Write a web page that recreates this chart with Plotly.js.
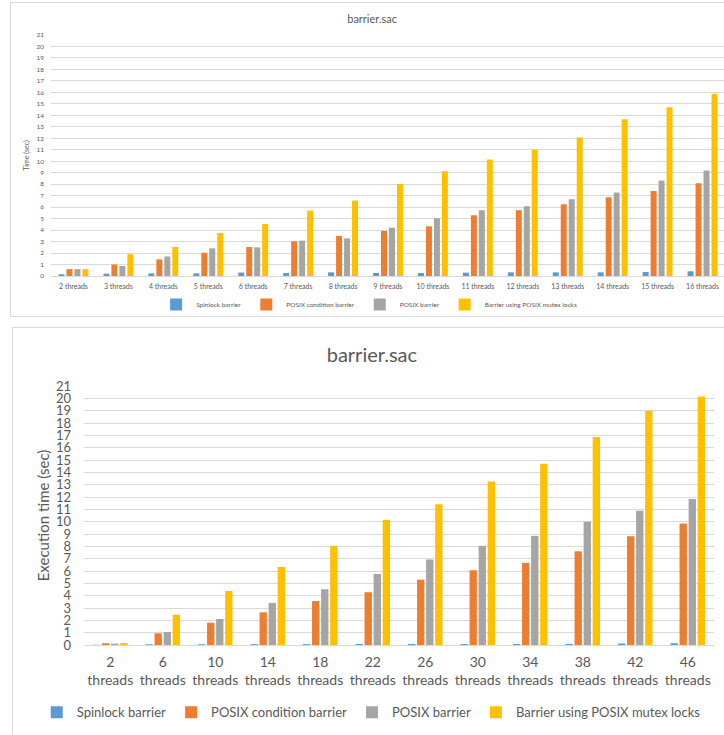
<!DOCTYPE html>
<html>
<head>
<meta charset="utf-8">
<script src="https://cdn.plot.ly/plotly-3.0.1.min.js"></script>
<style>
html,body{margin:0;padding:0;width:724px;height:735px;overflow:hidden;background:#fff;}
#c1{position:absolute;left:10px;top:2px;width:730px;height:315px;border:1px solid #D9D9D9;box-sizing:border-box;}
#c2{position:absolute;left:12px;top:327px;width:730px;height:420px;border:1px solid #D9D9D9;box-sizing:border-box;}
</style>
</head>
<body>
<div id="c1"></div>
<div id="c2"></div>
<script>
// ---- Chart 1 data ----
const topCategories = ["2 threads","3 threads","4 threads","5 threads","6 threads","7 threads","8 threads","9 threads","10 threads","11 threads","12 threads","13 threads","14 threads","15 threads","16 threads"];
const topSpinlock = [0.15,0.2,0.23,0.23,0.3,0.26,0.32,0.26,0.26,0.29,0.32,0.32,0.32,0.35,0.41];
const topCondition = [0.6,1.0,1.45,2.03,2.53,3.02,3.49,3.92,4.33,5.29,5.73,6.25,6.86,7.41,8.08];
const topPosix = [0.6,0.87,1.7,2.41,2.5,3.08,3.28,4.21,5.03,5.73,6.08,6.69,7.27,8.31,9.19];
const topMutex = [0.6,1.9,2.53,3.75,4.53,5.7,6.57,8.02,9.13,10.15,10.99,12.06,13.66,14.71,15.87];

// ---- Chart 2 data ----
const botCategories = ["2<br>threads","6<br>threads","10<br>threads","14<br>threads","18<br>threads","22<br>threads","26<br>threads","30<br>threads","34<br>threads","38<br>threads","42<br>threads","46<br>threads"];
const botSpinlock = [0.02,0.06,0.06,0.07,0.07,0.08,0.08,0.08,0.08,0.09,0.12,0.14];
const botCondition = [0.14,0.95,1.81,2.65,3.57,4.28,5.3,6.06,6.66,7.6,8.82,9.85];
const botPosix = [0.11,1.06,2.11,3.41,4.52,5.76,6.93,8.04,8.85,9.99,10.88,11.83];
const botMutex = [0.16,2.46,4.38,6.33,8.04,10.15,11.42,13.26,14.7,16.86,19.0,20.14];

const seriesNames = ["Spinlock barrier","POSIX condition barrier","POSIX barrier","Barrier using POSIX mutex locks"];
const colors = ["#5B9BD5","#ED7D31","#A5A5A5","#FFC000"];
const yTicks = [0,1,2,3,4,5,6,7,8,9,10,11,12,13,14,15,16,17,18,19,20,21];

const FONT = "Lato, 'Open Sans', sans-serif";
const TXT = "#595959";
const GRID = "#D9D9D9";

function traces(cats, arrs){
  return arrs.map((v,i)=>({type:'bar', x:cats, y:v, name:seriesNames[i], marker:{color:colors[i]}, hoverinfo:'skip'}));
}

// Chart 1
Plotly.newPlot('c1', traces(topCategories,[topSpinlock,topCondition,topPosix,topMutex]), {
  width:728, height:313,
  margin:{l:40, r:14, t:32, b:40, pad:0, autoexpand:false},
  paper_bgcolor:'rgba(0,0,0,0)', plot_bgcolor:'#fff',
  font:{family:FONT, color:TXT, size:7},
  title:{text:'barrier.sac', font:{size:11, color:TXT, family:FONT}, xref:'container', x:0.496, xanchor:'center', yref:'container', y:0.95, yanchor:'middle'},
  barmode:'group', bargap:0.29, bargroupgap:0.25,
  xaxis:{type:'category', automargin:false, tickangle:0, showgrid:false, showline:true, linecolor:GRID, linewidth:1, ticks:'', tickfont:{size:7, color:TXT}, ticklabelstandoff:4},
  yaxis:{range:[0,21], automargin:false, tickvals:yTicks, showgrid:true, gridcolor:GRID, gridwidth:1, zeroline:false, showline:false, ticks:'', tickfont:{size:6.5, color:TXT}, ticklabelstandoff:6,
         title:{text:'Time (sec)', font:{size:7, color:TXT}, standoff:6}},
  showlegend:true,
  legend:{orientation:'h', xref:'paper', x:0.472, xanchor:'center', y:-0.118, yanchor:'middle', font:{size:6.5, color:TXT}, itemwidth:30, traceorder:'normal'}
}, {displayModeBar:false, staticPlot:true});

// Chart 2
Plotly.newPlot('c2', traces(botCategories,[botSpinlock,botCondition,botPosix,botMutex]), {
  width:728, height:418,
  margin:{l:71, r:27, t:58, b:101, pad:0, autoexpand:false},
  paper_bgcolor:'rgba(0,0,0,0)', plot_bgcolor:'#fff',
  font:{family:FONT, color:TXT, size:14},
  title:{text:'barrier.sac', font:{size:20, color:TXT, family:FONT}, xref:'container', x:0.493, xanchor:'center', yref:'container', y:0.935, yanchor:'middle'},
  barmode:'group', bargap:0.31, bargroupgap:0.19,
  xaxis:{type:'category', automargin:false, tickangle:0, showgrid:false, showline:true, linecolor:GRID, linewidth:1, ticks:'', tickfont:{size:14, color:TXT}, ticklabelstandoff:4},
  yaxis:{range:[0,21], automargin:false, tickvals:yTicks, showgrid:true, gridcolor:GRID, gridwidth:1, zeroline:false, showline:false, ticks:'', tickfont:{size:13, color:TXT}, ticklabelstandoff:12,
         title:{text:'Execution time (sec)', font:{size:15, color:TXT}, standoff:2}},
  showlegend:true,
  legend:{orientation:'h', xref:'paper', x:-0.075, xanchor:'left', y:-0.26, yanchor:'middle', font:{size:13, color:TXT}, itemwidth:30, traceorder:'normal'}
}, {displayModeBar:false, staticPlot:true});
</script>
</body>
</html>
